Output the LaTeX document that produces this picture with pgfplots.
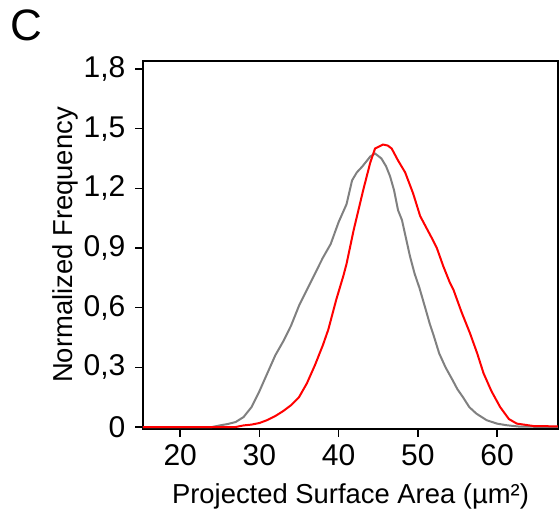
\documentclass[border=0pt]{standalone}
\usepackage{fontspec}
\setmainfont{Liberation Sans}
\usepackage{pgfplots}
\pgfplotsset{compat=1.18}
\definecolor{histgray}{RGB}{128,128,128}
\definecolor{histred}{RGB}{255,0,0}

\pgfplotstableread{
x y
15.3 0
24 0
25 0.008
26 0.015
27 0.025
28 0.05
29 0.10
30 0.18
31 0.27
32 0.36
33 0.43
34 0.51
35 0.61
36 0.69
37 0.77
38 0.85
39 0.92
40 1.03
41 1.12
41.7 1.24
42.3 1.28
43 1.31
44 1.36
44.6 1.375
45.4 1.35
46 1.31
46.5 1.26
47 1.19
47.5 1.09
48 1.04
48.5 0.95
49 0.86
49.6 0.77
50.2 0.70
51 0.59
51.5 0.52
52 0.46
52.7 0.37
53.5 0.30
54.4 0.235
55 0.19
55.7 0.15
56.5 0.10
57.4 0.067
58.7 0.034
60 0.017
61.2 0.009
62.8 0.002
67.7 0
}\graydata

\pgfplotstableread{
x y
15.3 0
27 0
28 0.008
29 0.012
30 0.02
31 0.035
32 0.055
33 0.08
34 0.11
35 0.15
36 0.22
37 0.31
38 0.41
38.7 0.49
39.7 0.64
40.6 0.76
41 0.82
41.9 0.99
42.5 1.09
43.1 1.19
44 1.33
44.6 1.40
45.6 1.42
46.2 1.415
46.7 1.40
47.5 1.34
48.4 1.28
49.4 1.175
50.3 1.06
51.1 1.00
51.9 0.94
52.4 0.90
53.2 0.81
54 0.73
54.5 0.69
55.5 0.58
56.6 0.47
57.5 0.37
58.3 0.27
59.3 0.18
60.4 0.10
61.5 0.04
62.5 0.017
64.6 0.005
67.7 0.003
}\reddata

\begin{document}
\begin{tikzpicture}
  \begin{axis}[
    scale only axis,
    width=207.5pt, height=184pt,
    xmin=15.3, xmax=67.7,
    ymin=-0.01, ymax=1.84,
    xtick={20,30,40,50,60},
    ytick={0,0.3,0.6,0.9,1.2,1.5,1.8},
    tick align=outside,
    major tick length=3.8pt,
    xtick pos=bottom, ytick pos=left,
    axis line style={line width=0.9pt},
    tick style={line width=0.8pt, black},
    /pgf/number format/assume math mode=true,
    /pgf/number format/use comma,
    /pgf/number format/fixed,
    /pgf/number format/precision=1,
    tick label style={font=\fontsize{15pt}{17pt}\selectfont},
    yticklabel style={xshift=-1.5pt},
    xticklabel style={yshift=-0.5pt},
    label style={font=\fontsize{13.7pt}{16pt}\selectfont},
    xlabel={Projected Surface Area (µm²)},
    ylabel={Normalized Frequency},
    ylabel style={yshift=-4pt},
    xlabel style={yshift=-2pt},
  ]
  \addplot[histgray, line width=1pt, sharp plot] table[x=x, y=y] {\graydata};
  \addplot[histred, line width=1pt, sharp plot] table[x=x, y=y] {\reddata};
  \end{axis}
  \node[font=\fontsize{22pt}{24pt}\selectfont, anchor=center]
    at ([xshift=-58.5pt, yshift=17.75pt]current axis.north west) {C};
  \useasboundingbox ([xshift=-71.5pt, yshift=30.5pt]current axis.north west)
    rectangle ([xshift=0.5pt, yshift=-44.5pt]current axis.south east);
\end{tikzpicture}
\end{document}
